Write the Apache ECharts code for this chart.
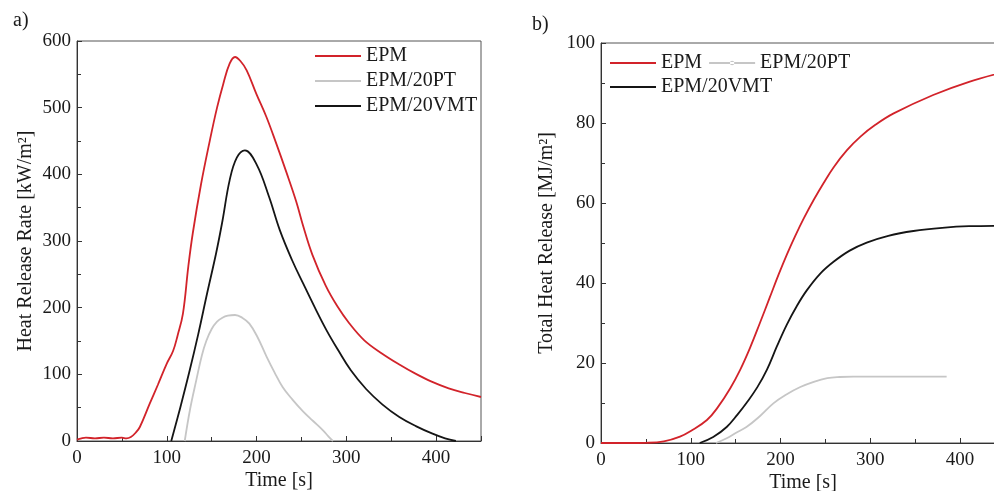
<!DOCTYPE html>
<html>
<head>
<meta charset="utf-8">
<script src="https://cdn.jsdelivr.net/npm/echarts@6/dist/echarts.min.js"></script>
<style>html,body{margin:0;padding:0;background:#fff;}#c{width:994px;height:491px;}</style>
</head>
<body>
<div id="c"></div>
<script>
// ---- Panel a) Heat release rate ----
var hrrTimeEPM = [0,5,10,20,30,40,50,55,60,65,70,81,90,100,107,112,118,124,129,138,148,156,163,170,176,182,189,200,211,222,233,244,252,262,277,290,303,320,340,360,377,395,414,432,450];
var hrrEPM     = [2,4,5,4,5,4,5,4,6,12,21,56,84,116,135,158,191,262,312,384,451,500,536,566,576,570,556,520,486,446,404,360,322,280,233,202,177,151,131,114,101,89,79,72,66];
var hrrTimePT  = [120,126,133,139,144,150,156,162,168,176,184,192,201,211,220,229,240,252,263,274,280,285];
var hrrPT      = [0,48,92,128,150,168,179,185,188,189,185,176,156,127,103,81,62,44,30,16,7,0];
var hrrTimeVMT = [105,115,125,135,145,155,162,170,178,187,200,214,226,240,252,265,278,291,305,322,340,359,378,396,410,422];
var hrrVMT     = [0,50,103,160,222,282,330,391,425,436,415,366,316,270,236,200,166,136,106,78,55,36,22,11,4,0];

// ---- Panel b) Total heat release ----
var thrTimeEPM = [0,30,50,70,88,100,118,130,144,155,166,177,188,198,207,216,226,237,248,259,274,289,306,326,370,410,450];
var thrEPM     = [0,0,0.05,0.4,1.6,3,5.75,8.9,13.7,18.3,23.8,30,36.4,42.2,47.1,51.6,56.2,60.8,65.0,68.9,73.2,76.6,79.6,82.4,87,90.3,92.8];
var thrTimePT  = [128,140,150,162,175,192,207,222,237,252,266,281,320,360,385];
var thrPT      = [0,1.2,2.5,4,6.3,9.9,12.2,14,15.3,16.2,16.5,16.6,16.6,16.6,16.6];
var thrTimeVMT = [110,125,140,152,162,174,185,196,207,218,229,244,259,277,296,320,348,380,410,450];
var thrVMT     = [0,1.5,4,7.1,10,13.9,18.4,24.2,29.6,34.2,38.1,42.3,45.3,48.1,50.1,51.8,53,53.8,54.2,54.3];

var xTickLabels = [0,100,200,300,400];
var seriesNames = ['EPM','EPM/20PT','EPM/20VMT'];
var colors = {'EPM':'#d2232a','EPM/20PT':'#c6c6c6','EPM/20VMT':'#151515'};

function pairs(t, v){ return t.map(function(x,i){ return [x, v[i]]; }); }

var FONT = 'Liberation Serif';
var txt = '#1a1a1a';

function xAxisCfg(gi){
  return {
    type:'value', gridIndex:gi, min:0, max:450, interval:100,
    name:'Time [s]', nameLocation:'middle', nameGap:30, nameMoveOverlap:false,
    nameTextStyle:{fontFamily:FONT,fontSize:20,color:txt},
    axisLine:{show:true,onZero:false,lineStyle:{color:'#333',width:1}},
    axisTick:{show:true,inside:true,length:5,lineStyle:{color:'#333'}},
    minorTick:{show:true,splitNumber:2,length:4,lineStyle:{color:'#333'}},
    splitLine:{show:false},
    axisLabel:{fontFamily:FONT,fontSize:19,color:txt,margin:8,
      formatter:function(v){ return xTickLabels.indexOf(v)>=0 ? String(v) : ''; }}
  };
}
function yAxisCfg(gi, max, interval, name, gap){
  return {
    type:'value', gridIndex:gi, min:0, max:max, interval:interval,
    name:name, nameLocation:'middle', nameGap:gap, nameMoveOverlap:false,
    nameTextStyle:{fontFamily:FONT,fontSize:20,color:txt},
    axisLine:{show:true,lineStyle:{color:'#333',width:1}},
    axisTick:{show:true,inside:true,length:5,lineStyle:{color:'#333'}},
    minorTick:{show:true,splitNumber:2,length:4,lineStyle:{color:'#333'}},
    splitLine:{show:false},
    axisLabel:{fontFamily:FONT,fontSize:19,color:txt,margin:6}
  };
}
function lineSeries(name, xi, yi, data){
  return {
    name:name, type:'line', xAxisIndex:xi, yAxisIndex:yi,
    data:data, symbol:'none', smooth:0.4,
    lineStyle:{color:colors[name], width:1.8},
    itemStyle:{color:colors[name]}, z: name==='EPM/20VMT'?3:2
  };
}
var legText = {fontFamily:FONT,fontSize:20,color:txt};
var lineIcon = 'path://M0,0H46V1.8H0Z';
var dotLineIcon = 'path://M0,2.1H46V3.9H0Z M20.8,3A2.2,2.2 0 1,0 25.2,3A2.2,2.2 0 1,0 20.8,3Z';

var option = {
  animation:false,
  backgroundColor:'#fff',
  title:[
    {text:'a)', left:13, top:11, padding:0, textStyle:{fontFamily:FONT,fontSize:20,fontWeight:'normal',color:txt}},
    {text:'b)', left:532, top:15, padding:0, textStyle:{fontFamily:FONT,fontSize:20,fontWeight:'normal',color:txt}}
  ],
  legend:[
    {data:seriesNames, orient:'vertical', left:315, top:46, icon:lineIcon, itemWidth:46, itemHeight:2, itemGap:5, padding:0, textStyle:legText},
    {data:[{name:'EPM', icon:lineIcon},{name:'EPM/20PT', icon:dotLineIcon}], orient:'horizontal', left:610, top:53, itemWidth:46, itemHeight:5, itemGap:7, padding:0, textStyle:legText},
    {data:['EPM/20VMT'], orient:'horizontal', left:610, top:77, icon:lineIcon, itemWidth:46, itemHeight:2, padding:0, textStyle:legText}
  ],
  grid:[
    {left:77, top:41, width:404, height:400, show:true, borderColor:'#555', borderWidth:1, containLabel:false, outerBoundsMode:'none'},
    {left:601, top:43, width:404, height:400, show:true, borderColor:'#555', borderWidth:1, containLabel:false, outerBoundsMode:'none'}
  ],
  xAxis:[xAxisCfg(0), xAxisCfg(1)],
  yAxis:[
    yAxisCfg(0, 600, 100, 'Heat Release Rate [kW/m\u00B2]', 41),
    yAxisCfg(1, 100, 20, 'Total Heat Release [MJ/m\u00B2]', 44)
  ],
  series:[
    lineSeries('EPM',0,0,pairs(hrrTimeEPM,hrrEPM)),
    lineSeries('EPM/20PT',0,0,pairs(hrrTimePT,hrrPT)),
    lineSeries('EPM/20VMT',0,0,pairs(hrrTimeVMT,hrrVMT)),
    lineSeries('EPM',1,1,pairs(thrTimeEPM,thrEPM)),
    lineSeries('EPM/20PT',1,1,pairs(thrTimePT,thrPT)),
    lineSeries('EPM/20VMT',1,1,pairs(thrTimeVMT,thrVMT))
  ]
};
var chart = echarts.init(document.getElementById('c'), null, {renderer:'canvas'});
chart.setOption(option);
</script>
</body>
</html>
